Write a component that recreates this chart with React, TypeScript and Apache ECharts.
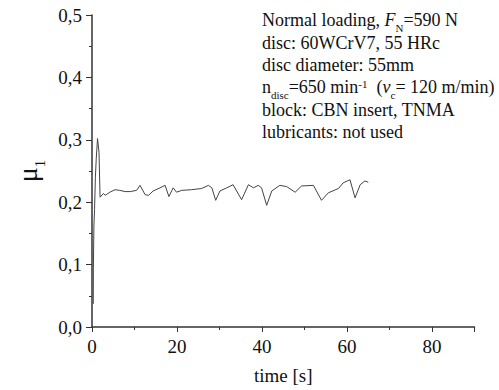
import React, { useEffect, useRef } from "react";
import * as echarts from "echarts";

const timeS = [0.3, 0.32, 0.45, 0.6, 0.8, 1.0, 1.3, 1.65, 1.9, 2.7, 3.1, 4.2, 5.4, 6.5, 7.8, 9.0, 10.5, 11.3, 12.5, 13.3, 14.4, 16.0, 17.2, 18.1, 19.1, 19.9, 21.1, 23.4, 25.8, 27.4, 28.2, 29.1, 30.1, 31.7, 33.2, 35.2, 36.8, 38.0, 39.1, 39.9, 41.1, 42.3, 44.2, 45.8, 47.8, 49.3, 52.1, 54.0, 55.6, 58.0, 59.1, 60.7, 61.9, 63.1, 64.2, 65.0];
const mu = [0.037, 0.093, 0.162, 0.188, 0.24, 0.27, 0.302, 0.28, 0.208, 0.214, 0.211, 0.216, 0.22, 0.219, 0.217, 0.217, 0.219, 0.227, 0.212, 0.211, 0.218, 0.223, 0.227, 0.209, 0.223, 0.216, 0.219, 0.22, 0.222, 0.227, 0.223, 0.203, 0.218, 0.223, 0.228, 0.204, 0.228, 0.223, 0.227, 0.223, 0.195, 0.218, 0.227, 0.225, 0.216, 0.226, 0.227, 0.203, 0.215, 0.222, 0.231, 0.236, 0.207, 0.228, 0.234, 0.232];

const xTicks = { min: 0, max: 90, interval: 20 };
const yTicks = { min: 0, max: 0.5, interval: 0.1 };

const infoLines = [
  "Normal loading, {i|F}{sub|N}=590 N",
  "disc: 60WCrV7, 55 HRc",
  "disc diameter: 55mm",
  "n{sub|disc}=650 min{sup|-1}  ({i|v}{sub|c}= 120 m/min)",
  "block: CBN insert, TNMA",
  "lubricants: not used",
];

const FONT = "'Liberation Serif', 'Times New Roman', serif";

export default function App() {
  const ref = useRef<HTMLDivElement>(null);
  useEffect(() => {
    if (!ref.current) return;
    const chart = echarts.init(ref.current, undefined, { renderer: "svg" });
    const axisColor = "#333";
    chart.setOption({
      animation: false,
      backgroundColor: "#fff",
      grid: { left: 92, top: 15, right: 24.5, bottom: 62 },
      xAxis: {
        type: "value",
        min: xTicks.min,
        max: xTicks.max,
        interval: xTicks.interval,
        name: "time [s]",
        nameLocation: "middle",
        nameGap: 39,
        nameTextStyle: { fontFamily: FONT, fontSize: 19, color: "#111" },
        axisLine: { show: true, onZero: false, lineStyle: { color: axisColor, width: 1.5 } },
        axisTick: { show: true, inside: false, length: 5, lineStyle: { color: axisColor } },
        minorTick: { show: true, splitNumber: 2, length: 3, lineStyle: { color: axisColor } },
        splitLine: { show: false },
        axisLabel: {
          fontFamily: FONT,
          fontSize: 19,
          color: "#111",
          margin: 10,
          formatter: (v: number) => (v % 20 === 0 ? String(v) : ""),
        },
      },
      yAxis: {
        type: "value",
        min: yTicks.min,
        max: yTicks.max,
        interval: yTicks.interval,
        name: "{a|μ}{b|1}",
        nameLocation: "middle",
        nameRotate: 90,
        nameGap: 44,
        nameTextStyle: {
          rich: {
            a: { fontFamily: FONT, fontSize: 28, color: "#111", lineHeight: 30, verticalAlign: "bottom" },
            b: { fontFamily: FONT, fontSize: 15, color: "#111", lineHeight: 30, verticalAlign: "bottom", padding: [0, 0, -6, 0] },
          },
        },
        axisLine: { show: true, onZero: false, lineStyle: { color: axisColor, width: 1.5 } },
        axisTick: { show: true, inside: false, length: 6, lineStyle: { color: axisColor } },
        minorTick: { show: true, splitNumber: 2, length: 3, lineStyle: { color: axisColor } },
        splitLine: { show: false },
        axisLabel: {
          fontFamily: FONT,
          fontSize: 19,
          color: "#111",
          margin: 10,
          formatter: (v: number) => v.toFixed(1).replace(".", ","),
        },
      },
      series: [
        {
          type: "line",
          data: timeS.map((t, i) => [t, mu[i]]),
          showSymbol: false,
          symbol: "none",
          lineStyle: { color: "#444", width: 1 },
        },
      ],
      graphic: [
        {
          type: "text",
          x: 262,
          y: 9,
          style: {
            text: infoLines.join("\n"),
            fontFamily: FONT,
            fontSize: 18,
            lineHeight: 22.4,
            fill: "#111",
            rich: {
              i: { fontFamily: FONT, fontSize: 18, fontStyle: "italic", lineHeight: 22.4 },
              sub: { fontFamily: FONT, fontSize: 11, lineHeight: 22.4, verticalAlign: "bottom", padding: [0, 0, -2, 0] },
              sup: { fontFamily: FONT, fontSize: 11, lineHeight: 22.4, verticalAlign: "top", padding: [2, 0, 0, 0] },
            },
          },
        },
      ],
    });
    return () => chart.dispose();
  }, []);
  return <div ref={ref} style={{ width: 499, height: 390, position: "absolute", left: 0, top: 0 }} />;
}
